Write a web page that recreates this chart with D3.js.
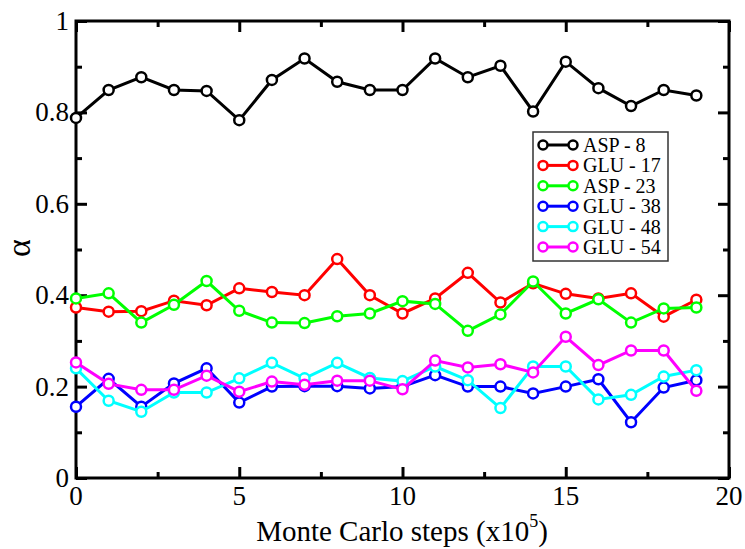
<!DOCTYPE html>
<html>
<head>
<meta charset="utf-8">
<script src="https://cdn.jsdelivr.net/npm/d3@7.9.0/dist/d3.min.js"></script>
</head>
<body style="margin:0;background:#fff">
<svg id="chart" width="745" height="549" font-family="&quot;Liberation Serif&quot;"></svg>
<script>
// Monte Carlo step index (x10^5)
const steps = d3.range(0, 20);

const asp8  = [0.788, 0.849, 0.877, 0.849, 0.847, 0.783, 0.871, 0.918, 0.867, 0.849,
               0.849, 0.918, 0.877, 0.902, 0.802, 0.911, 0.853, 0.814, 0.849, 0.837];
const glu17 = [0.373, 0.364, 0.365, 0.388, 0.378, 0.415, 0.407, 0.400, 0.479, 0.400,
               0.360, 0.393, 0.449, 0.384, 0.426, 0.403, 0.393, 0.404, 0.353, 0.390];
const asp23 = [0.393, 0.404, 0.340, 0.379, 0.431, 0.366, 0.340, 0.339, 0.354, 0.360,
               0.387, 0.381, 0.322, 0.358, 0.430, 0.360, 0.391, 0.340, 0.371, 0.373];
const glu38 = [0.156, 0.217, 0.156, 0.207, 0.240, 0.165, 0.200, 0.201, 0.201, 0.196,
               0.200, 0.225, 0.200, 0.200, 0.185, 0.200, 0.216, 0.122, 0.198, 0.214];
const glu48 = [0.240, 0.169, 0.145, 0.187, 0.187, 0.218, 0.252, 0.218, 0.252, 0.219,
               0.212, 0.244, 0.214, 0.153, 0.244, 0.244, 0.172, 0.182, 0.222, 0.236];
const glu54 = [0.253, 0.206, 0.193, 0.193, 0.224, 0.189, 0.211, 0.204, 0.213, 0.213,
               0.194, 0.257, 0.242, 0.249, 0.231, 0.309, 0.247, 0.279, 0.279, 0.191];

const seriesNames  = ["ASP - 8", "GLU - 17", "ASP - 23", "GLU - 38", "GLU - 48", "GLU - 54"];
const seriesValues = [asp8, glu17, asp23, glu38, glu48, glu54];
const seriesColors = ["#000000", "#ff0000", "#00ff00", "#0000ff", "#00ffff", "#ff00ff"];

const xMajor = [0, 5, 10, 15, 20];
const xMinor = [2.5, 7.5, 12.5, 17.5];
const yMajor = [0, 0.2, 0.4, 0.6, 0.8, 1];
const yMinor = [0.1, 0.3, 0.5, 0.7, 0.9];

// plot frame
const margin = {top: 21, right: 16, bottom: 71, left: 76};
const width = 745 - margin.left - margin.right;
const height = 549 - margin.top - margin.bottom;

const svg = d3.select('#chart');
const g = svg.append('g').attr('transform', `translate(${margin.left},${margin.top})`);

const x = d3.scaleLinear().domain([0, 20]).range([0, width]);
const y = d3.scaleLinear().domain([0, 1]).range([height, 0]);

// ticks drawn inward on all four sides
function ticks(axis, vals, len) {
  return axis.tickValues(vals).tickSizeInner(-len).tickSizeOuter(0).tickFormat('');
}

g.append('g').attr('transform', `translate(0,${height})`).call(ticks(d3.axisBottom(x), xMinor, 6));
g.append('g').attr('transform', `translate(0,${height})`).call(ticks(d3.axisBottom(x), xMajor, 11));
g.append('g').call(ticks(d3.axisTop(x), xMinor, 6));
g.append('g').call(ticks(d3.axisTop(x), xMajor, 11));
g.append('g').call(ticks(d3.axisLeft(y), yMinor, 6));
g.append('g').call(ticks(d3.axisLeft(y), yMajor, 11));
g.append('g').attr('transform', `translate(${width},0)`).call(ticks(d3.axisRight(y), yMinor, 6));
g.append('g').attr('transform', `translate(${width},0)`).call(ticks(d3.axisRight(y), yMajor, 11));

g.selectAll('.domain').remove();
g.selectAll('.tick line').attr('stroke', '#000').attr('stroke-width', 3);

g.append('rect')
  .attr('width', width).attr('height', height)
  .attr('fill', 'none').attr('stroke', '#000').attr('stroke-width', 3);

// tick labels
g.selectAll('.xlab').data(xMajor).join('text')
  .attr('x', d => x(d)).attr('y', height + 27)
  .attr('text-anchor', 'middle').attr('font-size', 27)
  .text(d => d);

g.selectAll('.ylab').data(yMajor).join('text')
  .attr('x', -7).attr('y', d => y(d) + 9)
  .attr('text-anchor', 'end').attr('font-size', 27)
  .text(d => d === 0 || d === 1 ? d : d.toFixed(1));

// axis titles
const xt = svg.append('text')
  .attr('x', 402).attr('y', 541)
  .attr('text-anchor', 'middle').attr('font-size', 29);
xt.append('tspan').text('Monte Carlo steps (x10');
xt.append('tspan').attr('font-size', 18).attr('dy', -14).text('5');
xt.append('tspan').attr('dy', 14).text(')');

svg.append('text')
  .attr('transform', 'translate(30,248) rotate(-90)')
  .attr('text-anchor', 'middle').attr('font-size', 34)
  .text('α');

// series
const line = d3.line().x((d, i) => x(steps[i])).y(d => y(d));

seriesValues.forEach((vals, k) => {
  const s = g.append('g');
  s.append('path')
    .datum(vals)
    .attr('fill', 'none')
    .attr('stroke', seriesColors[k])
    .attr('stroke-width', 3)
    .attr('d', line);
  s.selectAll('circle').data(vals).join('circle')
    .attr('cx', (d, i) => x(steps[i]))
    .attr('cy', d => y(d))
    .attr('r', 5)
    .attr('fill', '#fff')
    .attr('stroke', seriesColors[k])
    .attr('stroke-width', 2.5);
});

// legend
const leg = svg.append('g').attr('transform', 'translate(533,132)');
leg.append('rect')
  .attr('width', 135).attr('height', 129)
  .attr('fill', '#fff').attr('stroke', '#333').attr('stroke-width', 1.5);

seriesNames.forEach((name, k) => {
  const ry = 13 + k * 20.4;
  const row = leg.append('g').attr('transform', `translate(0,${ry})`);
  row.append('line')
    .attr('x1', 10).attr('x2', 40).attr('y1', 0).attr('y2', 0)
    .attr('stroke', seriesColors[k]).attr('stroke-width', 3);
  [10, 40].forEach(cx => row.append('circle')
    .attr('cx', cx).attr('cy', 0).attr('r', 4.5)
    .attr('fill', '#fff').attr('stroke', seriesColors[k]).attr('stroke-width', 2.5));
  row.append('text')
    .attr('x', 50).attr('y', 7)
    .attr('font-size', 20)
    .text(name);
});
</script>
</body>
</html>
